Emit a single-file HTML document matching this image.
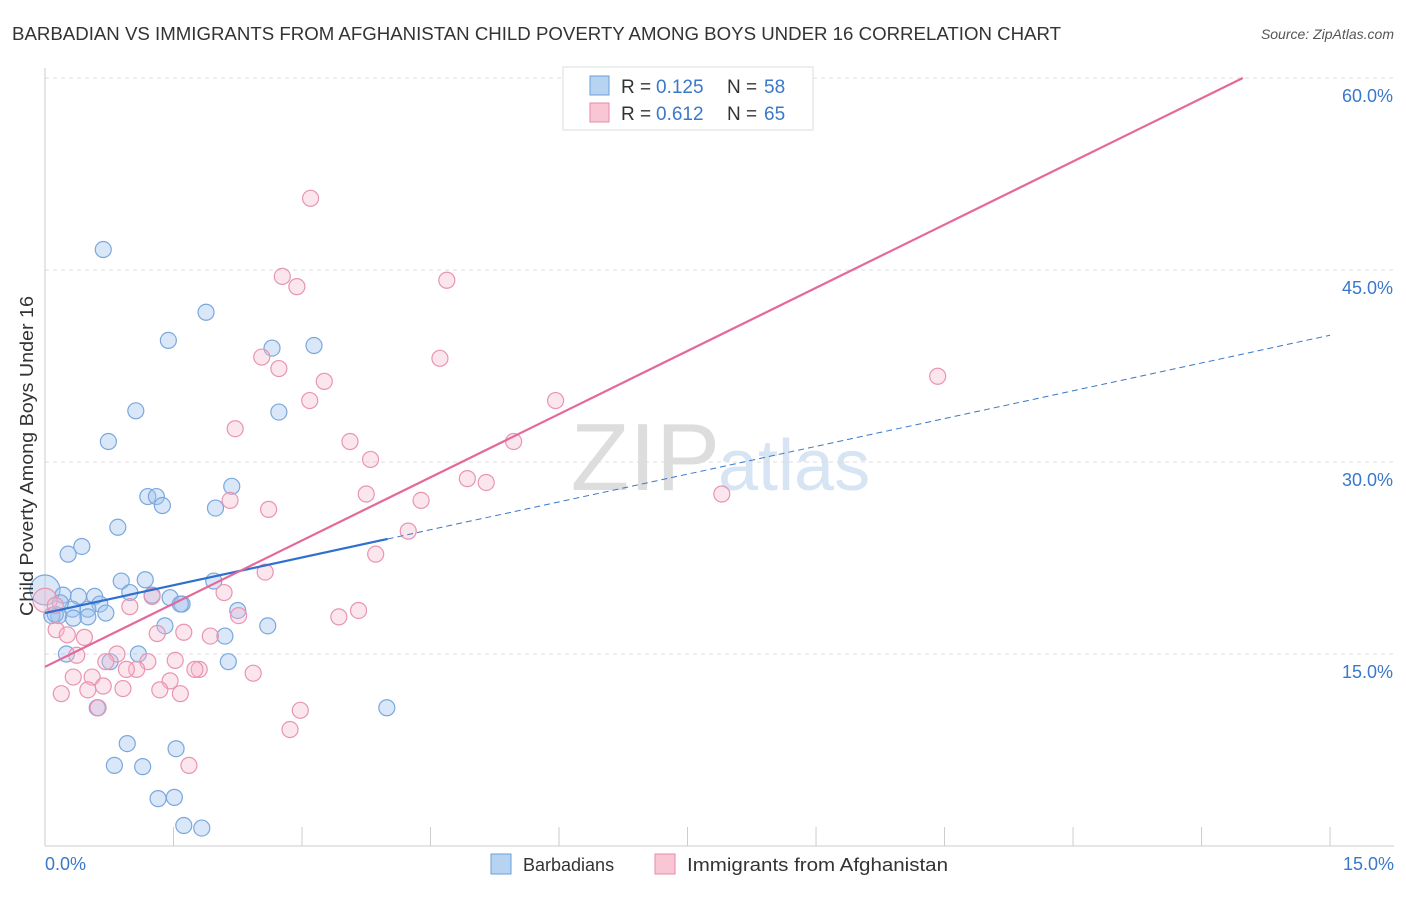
<!DOCTYPE html>
<html><head><meta charset="utf-8"><style>
body{margin:0;background:#fff;font-family:"Liberation Sans",sans-serif;}
svg text{font-family:"Liberation Sans",sans-serif;}
</style></head><body>
<svg id="chart" width="1406" height="892" xmlns="http://www.w3.org/2000/svg">
<text x="12" y="40" font-size="18" fill="#333" textLength="1049" lengthAdjust="spacingAndGlyphs">BARBADIAN VS IMMIGRANTS FROM AFGHANISTAN CHILD POVERTY AMONG BOYS UNDER 16 CORRELATION CHART</text>
<text x="1394" y="39" font-size="14" fill="#555" text-anchor="end" font-style="italic">Source: ZipAtlas.com</text>
<text x="720" y="490" font-size="96" fill="#ddd" text-anchor="end" font-family="Liberation Serif">ZIP</text>
<text x="718" y="490" font-size="72" fill="#d6e4f3">atlas</text>
<g id="grid"></g><g id="axes"></g><g id="pts"></g><g id="lines"></g>
<text transform="translate(33,456) rotate(-90)" font-size="18" fill="#333" text-anchor="middle" textLength="320" lengthAdjust="spacingAndGlyphs">Child Poverty Among Boys Under 16</text>
<g>
<rect x="563" y="67" width="250" height="63" fill="#fff" stroke="#ddd"/>
<rect x="590" y="76" width="19" height="19" fill="#b7d3f2" stroke="#6a9fd8"/>
<text x="621" y="93" font-size="19" fill="#333">R =</text><text x="656" y="93" font-size="19" fill="#3a78c9">0.125</text>
<text x="727" y="93" font-size="19" fill="#333">N =</text><text x="764" y="93" font-size="19" fill="#3a78c9">58</text>
<rect x="590" y="103" width="19" height="19" fill="#f9c6d6" stroke="#e58aa8"/>
<text x="621" y="120" font-size="19" fill="#333">R =</text><text x="656" y="120" font-size="19" fill="#3a78c9">0.612</text>
<text x="727" y="120" font-size="19" fill="#333">N =</text><text x="764" y="120" font-size="19" fill="#3a78c9">65</text>
</g>
<g>
<rect x="491" y="854" width="20" height="20" fill="#b7d3f2" stroke="#6a9fd8"/>
<text x="523" y="871" font-size="18" fill="#333">Barbadians</text>
<rect x="655" y="854" width="20" height="20" fill="#f9c6d6" stroke="#e58aa8"/>
<text x="687" y="871" font-size="18" fill="#333" textLength="261" lengthAdjust="spacingAndGlyphs">Immigrants from Afghanistan</text>
</g>
</svg>
<script>
const yTicks=[15,30,45,60];
const yTickLabels=["15.0%","30.0%","45.0%","60.0%"];
const xTickLabels=["0.0%","15.0%"];
const blueX=[0.68,1.88,1.44,2.65,3.14,1.06,2.73,0.74,1.20,1.30,1.37,2.18,1.99,0.85,0.43,0.27,0.0,0.89,1.17,0.21,0.39,0.58,0.99,1.25,1.46,1.60,1.58,1.97,2.25,0.64,0.50,0.32,0.16,0.08,0.50,0.71,1.40,2.10,2.60,0.25,0.76,1.09,2.14,0.61,3.99,0.96,1.53,0.81,1.14,1.32,1.51,1.62,1.83,0.12,0.18,0.33];
const blueY=[46.6,41.7,39.5,38.9,39.1,34.0,33.9,31.6,27.3,27.3,26.6,28.1,26.4,24.9,23.4,22.8,20.0,20.7,20.8,19.6,19.5,19.5,19.8,19.6,19.4,18.9,18.9,20.7,18.4,18.9,18.5,18.5,18.0,18.0,17.9,18.2,17.2,16.4,17.2,15.0,14.4,15.0,14.4,10.8,10.8,8.0,7.6,6.3,6.2,3.7,3.8,1.6,1.4,18.1,19.0,17.8];
const pinkX=[3.10,2.77,2.94,4.69,2.53,2.73,4.61,3.26,3.09,5.96,10.42,2.22,5.47,3.56,3.80,4.93,5.15,3.75,4.39,7.90,2.16,2.61,4.24,3.86,2.57,0.0,0.12,0.99,1.25,2.09,2.26,3.43,3.66,0.13,0.26,0.46,1.31,1.62,1.93,0.37,0.84,1.20,1.52,1.80,0.71,1.07,0.95,1.46,0.33,0.55,0.68,0.91,1.34,1.58,0.19,0.50,2.43,1.75,2.98,2.86,0.62,1.68];
const pinkY=[50.6,44.5,43.7,44.2,38.2,37.3,38.1,36.3,34.8,34.8,36.7,32.6,31.6,31.6,30.2,28.7,28.4,27.5,27.0,27.5,27.0,26.3,24.6,22.8,21.4,19.2,18.8,18.7,19.5,19.8,18.0,17.9,18.4,16.9,16.5,16.3,16.6,16.7,16.4,14.9,15.0,14.4,14.5,13.8,14.4,13.8,13.8,12.9,13.2,13.2,12.5,12.3,12.2,11.9,11.9,12.2,13.5,13.8,10.6,9.1,10.8,6.3];
const X=v=>45+v*85.67, Y=v=>846-v*12.8;
const NS="http://www.w3.org/2000/svg";
function mk(tag,attrs,parent){const e=document.createElementNS(NS,tag);for(const k in attrs)e.setAttribute(k,attrs[k]);document.getElementById(parent).appendChild(e);return e;}
yTicks.forEach((t,i)=>{
 const g=mk('line',{x1:45,x2:1394,y1:Y(t),y2:Y(t),stroke:'#ddd','stroke-dasharray':'4,4'},'grid');
 
 
 const tx=mk('text',{x:1393,y:Y(t)+24,'font-size':18,fill:'#3a78c9','text-anchor':'end'},'grid');
 tx.textContent=yTickLabels[i];
 
 
});
const ax=mk('line',{x1:45,x2:45,y1:68,y2:846,stroke:'#ccc'},'axes');


const bx=mk('line',{x1:45,x2:1394,y1:846,y2:846,stroke:'#ccc'},'axes');


for(let i=1;i<=10;i++){
 const t=mk('line',{x1:X(i*1.5),x2:X(i*1.5),y1:827,y2:846,stroke:'#ccc'},'axes');
 
 
}
[[0,'start',45],[15,'end',1394]].forEach((d,i)=>{
 const t=mk('text',{x:d[2],y:870,'font-size':18,fill:'#3a78c9','text-anchor':d[1]},'axes');
 t.textContent=xTickLabels[i];
 
 
});
blueX.forEach((x,i)=>{
 const c=mk('circle',{cx:X(x),cy:Y(blueY[i]),r:i==16?15:8,fill:'rgba(160,196,238,0.4)',stroke:'#7aa8dd','stroke-width':1.2},'pts');
 
 
});
pinkX.forEach((x,i)=>{
 const c=mk('circle',{cx:X(x),cy:Y(pinkY[i]),r:i==25?12:8,fill:'rgba(247,184,204,0.35)',stroke:'#e994b1','stroke-width':1.2},'pts');
 
 
});
const bI=18.2,bS=1.447,pI=14.0,pS=3.29;
let l=mk('line',{x1:X(4),y1:Y(bI+bS*4),x2:X(15),y2:Y(bI+bS*15),stroke:'#3a78c9','stroke-width':1,'stroke-dasharray':'6,4'},'lines');


l=mk('line',{x1:X(0),y1:Y(bI),x2:X(4),y2:Y(bI+bS*4),stroke:'#2f6fd0','stroke-width':2.2},'lines');


const pEnd=(60-pI)/pS;
l=mk('line',{x1:X(0),y1:Y(pI),x2:X(pEnd),y2:Y(60),stroke:'#e5689a','stroke-width':2.2},'lines');


</script>
</body></html>
